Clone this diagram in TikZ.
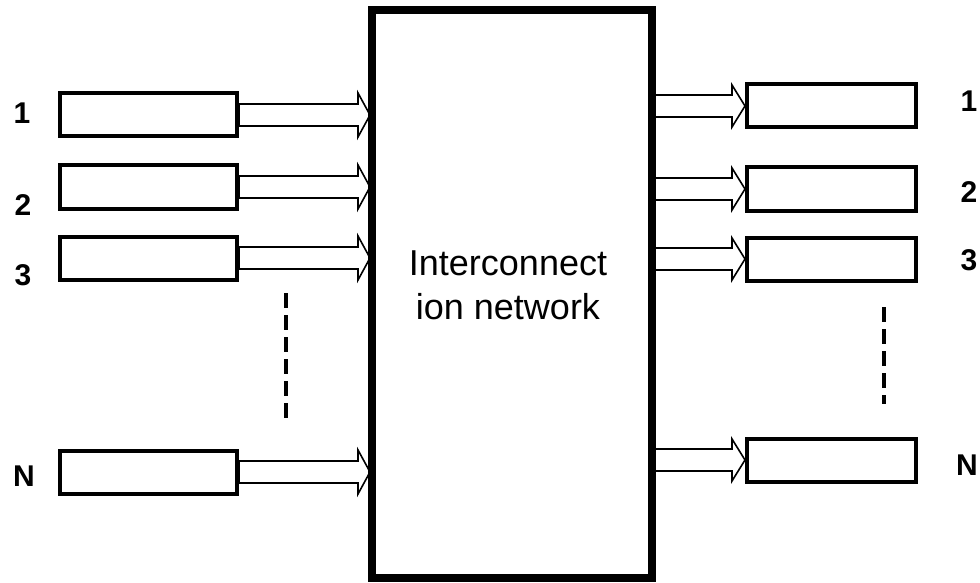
\documentclass[tikz,border=0pt]{standalone}
\usepackage{fontspec}
\setmainfont{Liberation Sans}
\usetikzlibrary{calc}
\begin{document}
\begin{tikzpicture}[x=1pt,y=-1pt,
  smallbox/.style={draw,line width=4pt,minimum height=43pt,inner sep=0pt},
  lbox/.style={smallbox,minimum width=177pt},
  rbox/.style={smallbox,minimum width=169pt},
  numlabel/.style={font=\fontsize{30}{32}\selectfont\bfseries,inner sep=0pt},
  arrowline/.style={draw,line width=1.6pt,fill=white,line join=miter},
  dotline/.style={line width=4pt,dash pattern=on 15pt off 7pt}]
\useasboundingbox (0,0) rectangle (980,583);
% left boxes
\node[lbox] (l1) at (148.5,115) {};
\node[lbox] (l2) at (148.5,187) {};
\node[lbox] (l3) at (148.5,258) {};
\node[lbox] (lN) at (148.5,472) {};
% right boxes
\node[rbox] (r1) at (831.5,106) {};
\node[rbox] (r2) at (831.5,189) {};
\node[rbox] (r3) at (831.5,259) {};
\node[rbox] (rN) at (831.5,460) {};
% labels
\node[numlabel] (t1) at (22,113) {1};
\node[numlabel] (t2) at (23,205) {2};
\node[numlabel] (t3) at (23,275) {3};
\node[numlabel] (tN) at (24,476) {N};
\node[numlabel] (s1) at (969,101) {1};
\node[numlabel] (s2) at (969,192) {2};
\node[numlabel] (s3) at (969,260) {3};
\node[numlabel] (sN) at (967,465) {N};
% big box geometry (coordinates for arrows)
\coordinate (bigW) at (372,294);
\coordinate (bigE) at (652,294);
% arrows left
\foreach \b in {l1,l2,l3,lN}{
  \draw[arrowline] let \p1=(\b.east), \p2=($(\b.east -| bigW)+(-2,0)$) in
    (\x1,\y1+11pt) -- (\x2-12pt,\y1+11pt) -- (\x2-12pt,\y1+22pt) -- (\x2,\y1)
    -- (\x2-12pt,\y1-22pt) -- (\x2-12pt,\y1-11pt) -- (\x1,\y1-11pt) -- cycle;
}
% arrows right
\foreach \b in {r1,r2,r3,rN}{
  \draw[arrowline] let \p1=(\b.west -| bigE), \p2=(\b.west) in
    (\x1,\y2+11pt) -- (\x2-13pt,\y2+11pt) -- (\x2-13pt,\y2+21pt) -- (\x2,\y2)
    -- (\x2-13pt,\y2-21pt) -- (\x2-13pt,\y2-11pt) -- (\x1,\y2-11pt) -- cycle;
}
% big box
\node[draw,line width=8pt,minimum width=280pt,minimum height=568pt,inner sep=0pt] (big) at (512,294) {};
\node[align=center,font=\fontsize{36}{44}\selectfont,inner sep=0pt] (lbl) at (508,285) {Interconnect\\ion network};
% dashed vertical lines
\coordinate (da) at (286,293);
\coordinate (db) at (286,420);
\coordinate (dc) at (884,307);
\coordinate (dd) at (884,404);
\draw[dotline] (da) -- (db);
\draw[dotline] (dc) -- (dd);
\end{tikzpicture}
\end{document}
